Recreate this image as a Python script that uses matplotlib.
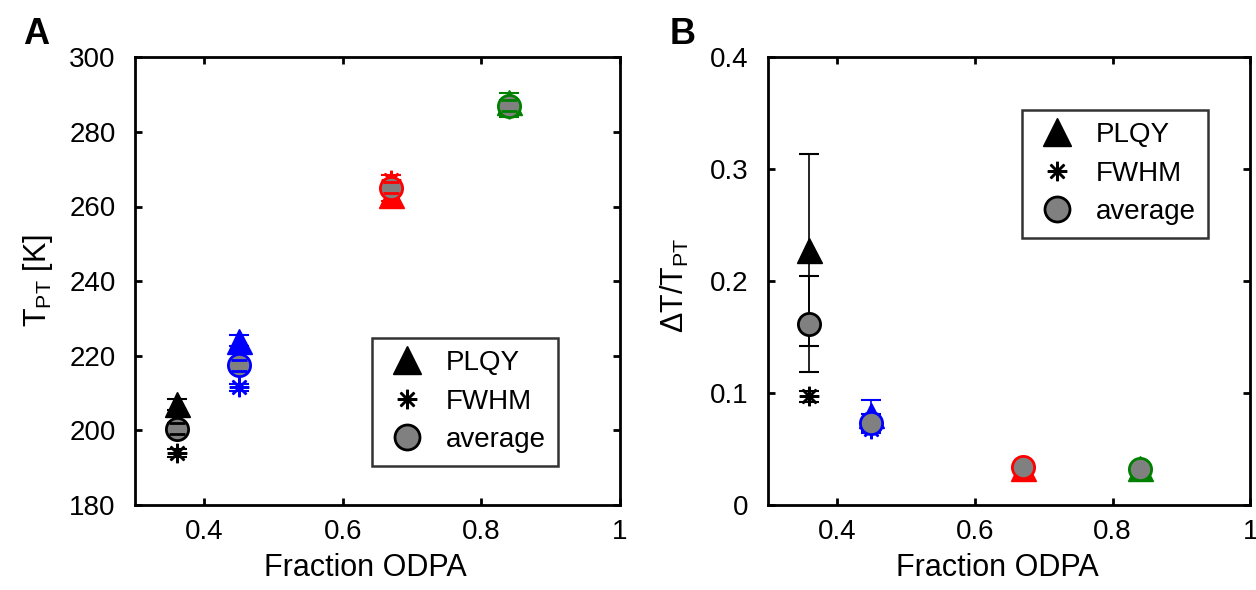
import matplotlib
matplotlib.use("Agg")
import matplotlib.pyplot as plt

plt.rcParams['font.family'] = ['Liberation Sans', 'DejaVu Sans']
plt.rcParams['mathtext.fontset'] = 'custom'
plt.rcParams['mathtext.rm'] = 'Liberation Sans'

# fraction ODPA for the four samples
x = [0.36, 0.45, 0.67, 0.84]
colors = ['black', 'blue', 'red', 'green']

# panel A: transition temperature [K]
t_plqy = [207, 224, 263, 288]
t_plqy_err = [1.5, 1.5, 1.5, 2.5]
t_fwhm = [194, 211.5, 267, 286]
t_fwhm_err = [1, 1, 1.5, 2]
t_avg = [200.5, 217.5, 265, 287]
t_avg_err = [1.5, 1.5, 1.5, 1.5]

# panel B: relative width dT/T_PT
d_plqy = [0.228, 0.080, 0.033, 0.033]
d_plqy_err = [0.086, 0.014, 0.004, 0.004]
d_fwhm = [0.097, 0.068, 0.035, 0.031]
d_fwhm_err = [0.005, 0.004, 0.003, 0.003]
d_avg = [0.162, 0.073, 0.034, 0.032]
d_avg_err = [0.043, 0.008, 0.003, 0.003]

ASTER = (8, 2, 0)
EB = dict(fmt='none', capsize=7, elinewidth=1.2, capthick=1.5)


def draw_panel(ax, plqy, plqy_err, fwhm, fwhm_err, avg, avg_err, caps_on_top):
    for i in range(len(x)):
        c = colors[i]
        ax.errorbar(x[i], plqy[i], yerr=plqy_err[i], ecolor=c, zorder=2, **EB)
        ax.plot(x[i], plqy[i], marker='^', ls='none', color=c, ms=18, zorder=2)
        ax.errorbar(x[i], fwhm[i], yerr=fwhm_err[i], ecolor=c, zorder=2, **EB)
        ax.plot(x[i], fwhm[i], marker=ASTER, ls='none', color=c, ms=14, mew=1.8,
                zorder=2)
        ax.errorbar(x[i], avg[i], yerr=avg_err[i], ecolor=c, zorder=1, **EB)
        ax.plot(x[i], avg[i], marker='o', ls='none', ms=16, mfc='gray', mec=c,
                mew=2, zorder=3)
        if caps_on_top:
            ax.errorbar(x[i], avg[i], yerr=avg_err[i], ecolor=c, fmt='none',
                        capsize=6, elinewidth=0, capthick=2, zorder=4)
    # legend proxies
    h1, = ax.plot([], [], marker='^', ls='none', color='black', ms=20, label='PLQY')
    h2, = ax.plot([], [], marker=ASTER, ls='none', color='black', ms=14, mew=1.8,
                  label='FWHM')
    h3, = ax.plot([], [], marker='o', ls='none', ms=18, mfc='gray', mec='black',
                  mew=2, label='average')
    return [h1, h2, h3]


def style_axes(ax):
    for s in ax.spines.values():
        s.set_linewidth(2)
    ax.tick_params(direction='in', top=True, right=True, length=5, width=2,
                   labelsize=20)
    ax.tick_params(axis='y', pad=14)
    ax.tick_params(axis='x', pad=10)
    ax.set_xlim(0.3, 1.0)
    ax.set_xticks([0.4, 0.6, 0.8, 1.0])
    ax.set_xticklabels(['0.4', '0.6', '0.8', '1'])
    ax.set_xlabel('Fraction ODPA', fontsize=22)
    ax.xaxis.set_label_coords(0.475, -0.108)


def add_legend(ax, handles, x0, y0, x1, y1):
    leg = ax.legend(handles=handles, loc='center',
                    bbox_to_anchor=((x0 + x1) / 2, (y0 + y1) / 2),
                    fontsize=20, frameon=True, fancybox=False, edgecolor='black',
                    handletextpad=0.6, labelspacing=0.45, borderpad=0.45,
                    handlelength=1.6, borderaxespad=0)
    leg.get_frame().set_linewidth(1.8)


fig = plt.figure(figsize=(12.56, 5.9), dpi=100)
ax1 = fig.add_axes([0.1075, 0.144, 0.386, 0.759])
ax2 = fig.add_axes([0.6115, 0.144, 0.384, 0.759])

hs = draw_panel(ax1, t_plqy, t_plqy_err, t_fwhm, t_fwhm_err, t_avg, t_avg_err, True)
style_axes(ax1)
ax1.set_ylim(180, 300)
ax1.set_yticks(range(180, 301, 20))
ax1.set_ylabel(r'T$_\mathregular{PT}$ [K]', fontsize=22, labelpad=10)
add_legend(ax1, hs, 0.495, 0.078, 0.866, 0.384)

hs = draw_panel(ax2, d_plqy, d_plqy_err, d_fwhm, d_fwhm_err, d_avg, d_avg_err, False)
style_axes(ax2)
ax2.set_ylim(0, 0.4)
ax2.set_yticks([0, 0.1, 0.2, 0.3, 0.4])
ax2.set_yticklabels(['0', '0.1', '0.2', '0.3', '0.4'])
ax2.set_ylabel(r'$\mathregular{\Delta}$T/T$_\mathregular{PT}$', fontsize=22)
ax2.yaxis.set_label_coords(-0.16, 0.49)
add_legend(ax2, hs, 0.519, 0.592, 0.921, 0.888)

fig.text(0.018, 0.925, 'A', fontsize=26, fontweight='bold')
fig.text(0.533, 0.925, 'B', fontsize=26, fontweight='bold')

fig.savefig('out.png', dpi=100)
plt.close(fig)
